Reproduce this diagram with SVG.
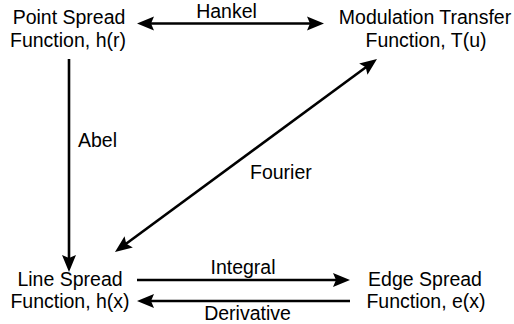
<svg xmlns="http://www.w3.org/2000/svg" width="514" height="324" viewBox="0 0 514 324">
<style>
text{font-family:"Liberation Sans",Arial,sans-serif;font-size:19.5px;fill:#000}
.c{text-anchor:middle}
.ln{stroke:#000;stroke-width:2.6;fill:none}
</style>
<defs>
<marker id="ah" markerUnits="userSpaceOnUse" markerWidth="18" markerHeight="15" refX="7" refY="7" orient="auto-start-reverse" viewBox="0 0 18 14">
<path d="M0,0 L17,7 L0,14 L3,7 z" fill="#000"/>
</marker>
</defs>
<rect width="514" height="324" fill="#fff"/>
<g id="psf"><text class="c" x="69" y="24">Point Spread</text><text class="c" x="68" y="47">Function, h(r)</text></g>
<g id="mtf"><text class="c" x="425" y="24">Modulation Transfer</text><text class="c" x="426" y="47">Function, T(u)</text></g>
<g id="lsf"><text class="c" x="70" y="286">Line Spread</text><text class="c" x="70" y="308">Function, h(x)</text></g>
<g id="esf"><text class="c" x="425" y="286">Edge Spread</text><text class="c" x="426" y="308">Function, e(x)</text></g>
<g id="connectors">
<line class="ln" x1="147" y1="23.5" x2="314" y2="23.5" marker-start="url(#ah)" marker-end="url(#ah)"/>
<text class="c" x="226.5" y="18">Hankel</text>
<line class="ln" x1="69" y1="59" x2="69" y2="262" marker-end="url(#ah)"/>
<text x="78" y="147">Abel</text>
<line class="ln" x1="123.05" y1="246.07" x2="368.95" y2="64.93" marker-start="url(#ah)" marker-end="url(#ah)"/>
<text x="250" y="179">Fourier</text>
<line class="ln" x1="137" y1="280" x2="340" y2="280" marker-end="url(#ah)"/>
<text class="c" x="243" y="274">Integral</text>
<line class="ln" x1="350" y1="301" x2="147" y2="301" marker-end="url(#ah)"/>
<text class="c" x="247.5" y="320">Derivative</text>
</g>
</svg>
